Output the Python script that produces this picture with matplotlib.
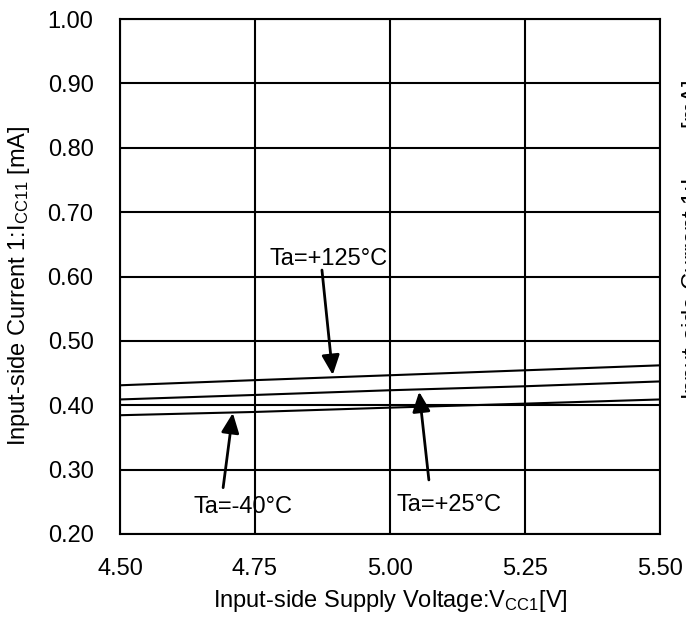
import numpy as np
import matplotlib
matplotlib.use("Agg")
import matplotlib.pyplot as plt

plt.rcParams['font.family'] = ['Liberation Sans', 'DejaVu Sans']
plt.rcParams['mathtext.fontset'] = 'custom'
plt.rcParams['mathtext.rm'] = 'Liberation Sans'
plt.rcParams['mathtext.it'] = 'Liberation Sans:italic'
plt.rcParams['mathtext.bf'] = 'Liberation Sans:bold'

# supply voltage [V]
vcc1 = [4.50, 4.75, 5.00, 5.25, 5.50]
# input-side current ICC11 [mA] per ambient temperature
icc_m40 = [0.3845, 0.3896, 0.3963, 0.4025, 0.4090]
icc_25 = [0.4090, 0.4160, 0.4233, 0.4295, 0.4370]
icc_125 = [0.4310, 0.4390, 0.4466, 0.4543, 0.4620]

x_ticks = [4.50, 4.75, 5.00, 5.25, 5.50]
y_ticks = [0.20, 0.30, 0.40, 0.50, 0.60, 0.70, 0.80, 0.90, 1.00]

ylabel = r'Input-side Current 1:I$_{\mathrm{CC11}}$ [mA]'
xlabel = r'Input-side Supply Voltage:V$_{\mathrm{CC1}}$[V]'

fig = plt.figure(figsize=(6.86, 6.21), dpi=100)
ax = fig.add_axes([0.1749, 0.1401, 0.7872, 0.8293])

for y in (icc_m40, icc_25, icc_125):
    ax.plot(vcc1, y, color='black', lw=1.5)

ax.set_xlim(4.5, 5.5)
ax.set_ylim(0.2, 1.0)
ax.set_xticks(x_ticks)
ax.set_yticks(y_ticks)
ax.set_xticklabels(['%.2f' % v for v in x_ticks])
ax.set_yticklabels(['%.2f' % v for v in y_ticks])
ax.tick_params(length=0, labelsize=17)
ax.tick_params(axis='y', pad=19)
ax.tick_params(axis='x', pad=17)
ax.grid(True, color='black', lw=1.5)
for s in ax.spines.values():
    s.set_linewidth(1.5)

ax.set_xlabel(xlabel, fontsize=17, labelpad=6)
fig.text(0.028, 0.54, ylabel, rotation=90, fontsize=17, ha='center', va='center')
# clipped copy of the label at the right edge
fig.text(0.991, 0.614, ylabel, rotation=90, fontsize=17, ha='left', va='center')

arrow = dict(arrowstyle='-|>,head_length=0.6,head_width=0.27', mutation_scale=20,
             lw=2, color='black', shrinkA=0, shrinkB=0)
ax.annotate('', xy=(4.709, 0.388), xytext=(4.691, 0.272), arrowprops=arrow)
ax.annotate('', xy=(5.054, 0.421), xytext=(5.072, 0.284), arrowprops=arrow)
ax.annotate('', xy=(4.894, 0.447), xytext=(4.874, 0.610), arrowprops=arrow)

ax.text(4.728, 0.233, 'Ta=-40°C', fontsize=17, ha='center', va='baseline')
ax.text(5.110, 0.236, 'Ta=+25°C', fontsize=17, ha='center', va='baseline')
ax.text(4.887, 0.618, 'Ta=+125°C', fontsize=17, ha='center', va='baseline')

fig.savefig('out.png', dpi=100)
